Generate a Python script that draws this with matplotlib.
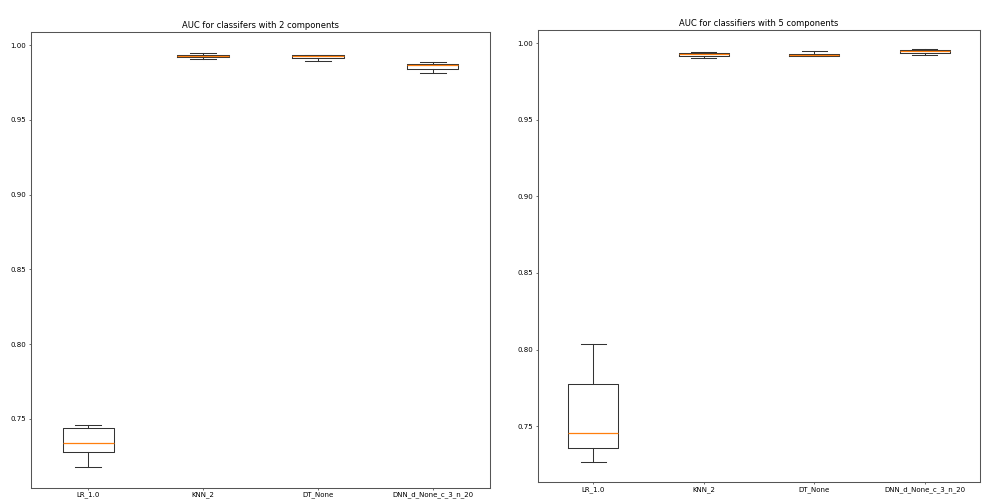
"""
AUC box plots for classifiers with 2 and 5 components.
"""

import matplotlib
matplotlib.use("Agg")
import matplotlib.pyplot as plt

CLASSIFIERS = ["LR_1.0", "KNN_2", "DT_None", "DNN_d_None_c_3_n_20"]

# five-number summaries: whislo, q1, med, q3, whishi
AUC_2_WHISLO = [0.7175, 0.9904, 0.9893, 0.9811]
AUC_2_Q1 = [0.7280, 0.9918, 0.9911, 0.9842]
AUC_2_MED = [0.7336, 0.9929, 0.9924, 0.9864]
AUC_2_Q3 = [0.7436, 0.9936, 0.9931, 0.9875]
AUC_2_WHISHI = [0.7456, 0.9949, 0.9936, 0.9884]

AUC_5_WHISLO = [0.7264, 0.9906, 0.9915, 0.9923]
AUC_5_Q1 = [0.7355, 0.9915, 0.9919, 0.9936]
AUC_5_MED = [0.7456, 0.9928, 0.9921, 0.9948]
AUC_5_Q3 = [0.7774, 0.9936, 0.9932, 0.9956]
AUC_5_WHISHI = [0.8036, 0.9941, 0.9948, 0.9961]

LW = 1.5


def make_stats(whislo, q1, med, q3, whishi):
    stats = []
    for i, name in enumerate(CLASSIFIERS):
        stats.append({"label": name, "whislo": whislo[i], "q1": q1[i],
                      "med": med[i], "q3": q3[i], "whishi": whishi[i],
                      "fliers": []})
    return stats


def draw(ax, stats, title, bottom):
    ax.bxp(stats, showfliers=False,
           boxprops={"linewidth": LW, "color": "#333333"},
           whiskerprops={"linewidth": LW, "color": "#333333"},
           capprops={"linewidth": LW, "color": "#333333"},
           medianprops={"linewidth": 1.8, "color": "#ff7f0e", "zorder": 3})
    ax.set_title(title)
    ax.set_ylim(bottom, 1.0087)
    ax.set_yticks([0.75, 0.80, 0.85, 0.90, 0.95, 1.00])
    ax.tick_params(axis="x", pad=1.5)
    for spine in ax.spines.values():
        spine.set_linewidth(LW)
        spine.set_color("#555555")


fig = plt.figure(figsize=(19.64, 10), dpi=50)

# the two panels are slightly offset, like two images glued together
ax1 = fig.add_axes([31 / 982, 12 / 500, 459 / 982, 456 / 500])
ax2 = fig.add_axes([538 / 982, 17.7 / 500, 442 / 982, 452.3 / 500])

draw(ax1, make_stats(AUC_2_WHISLO, AUC_2_Q1, AUC_2_MED, AUC_2_Q3, AUC_2_WHISHI),
     "AUC for classifers with 2 components", 0.7037)
draw(ax2, make_stats(AUC_5_WHISLO, AUC_5_Q1, AUC_5_MED, AUC_5_Q3, AUC_5_WHISHI),
     "AUC for classifiers with 5 components", 0.7133)

fig.savefig("out.png", dpi=50)
